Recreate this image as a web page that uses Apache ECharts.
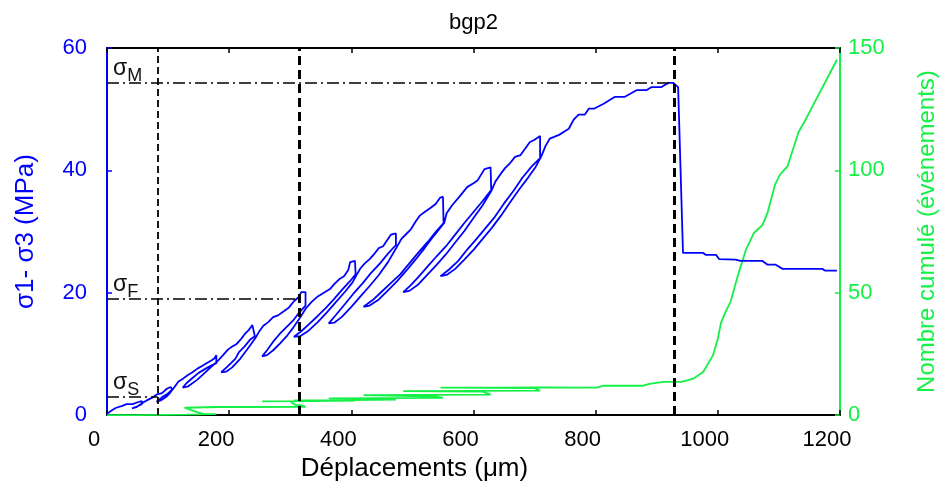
<!DOCTYPE html>
<html>
<head>
<meta charset="utf-8">
<script src="https://cdn.jsdelivr.net/npm/echarts@6/dist/echarts.min.js"></script>
<style>html,body{margin:0;padding:0;background:#fff;}#c{width:947px;height:487px;}</style>
</head>
<body>
<div id="c"></div>
<script>
// ---- data ----
const chartTitle = 'bgp2';
const xName = 'Déplacements (\u03bcm)';
const yLeftName = '\u03c31- \u03c33 (MPa)';
const yRightName = 'Nombre cumulé (événements)';
const xTicks = [0, 200, 400, 600, 800, 1000, 1200];
const yLeftTicks = [0, 20, 40, 60];
const yRightTicks = [0, 50, 100, 150];

// stress (MPa) vs displacement (um), cyclic loading path
const stressCurve = [
 [0,0.2],[8,0.8],[15,1.2],[25,1.5],[32,1.8],[42,1.8],[50,2.1],[57,2.3],
 [57,1.8],[49,1.4],[41,1.1],[48,1.3],[58,2.0],
 [65,2.4],[75,2.9],[82,3.4],[90,3.6],[98,4.3],[104,4.6],[107,4.9],
 [107,4.2],[98,3.4],[90,2.9],[81,2.2],[88,2.4],[97,3.0],[103,3.6],[109,4.4],
 [117,5.5],[125,6.0],[133,6.6],[140,7.0],[148,7.6],[157,8.1],[165,8.6],[172,9.0],[176,9.3],[179,9.8],
 [179,8.5],[165,7.8],[150,6.9],[138,5.9],[130,5.2],[124,4.5],[133,4.7],[148,5.8],[160,6.9],[172,8.0],[181,8.8],
 [190,9.8],[198,10.7],[205,11.2],[212,11.6],[220,12.5],[226,13.3],[232,13.9],[238,14.7],[241,15.0],
 [242,12.9],[234,12.3],[225,11.2],[216,10.3],[210,9.2],[198,8.0],[187,7.0],[195,7.1],[205,7.8],[218,9.2],[230,10.8],[243,12.6],
 [250,13.8],[256,14.6],[264,15.2],[272,16.0],[280,16.3],[290,17.0],[298,17.6],[306,18.6],[314,19.3],[318,20.1],[325,20.1],
 [325,17.9],[315,16.8],[305,15.5],[295,14.5],[283,13.3],[272,12.0],[262,10.6],[254,9.6],[262,9.8],[272,10.6],[283,11.7],[295,13.0],[305,14.3],[316,15.9],[326,17.5],
 [335,18.5],[345,19.4],[355,20.0],[365,20.6],[372,21.4],[380,22.2],[388,22.7],[395,23.7],[398,25.0],[406,25.2],
 [407,23.0],[397,21.8],[385,20.5],[372,19.0],[358,17.5],[345,16.2],[330,14.8],[318,13.7],[306,12.8],[316,12.9],[330,13.8],[345,15.2],[360,16.8],[375,18.5],[390,20.2],[402,21.7],[408,22.8],
 [415,24.0],[422,24.8],[430,25.5],[438,26.4],[445,27.3],[452,27.6],[458,28.5],[465,29.5],[473,29.7],
 [473,27.8],[460,26.4],[447,24.8],[432,23.2],[418,21.5],[403,19.8],[390,18.2],[375,16.4],[363,15.0],[372,15.1],[385,16.1],[400,17.7],[415,19.4],[430,21.1],[445,22.9],[460,25.0],[474,27.4],
 [482,28.8],[490,29.6],[497,30.3],[505,31.6],[512,32.6],[520,33.2],[530,33.9],[538,34.5],[545,35.5],[550,35.7],
 [551,31.4],[538,29.9],[525,28.3],[510,26.6],[495,24.8],[480,23.0],[465,21.6],[450,20.2],[435,18.8],[420,17.7],[430,17.9],[445,18.9],[460,20.4],[475,21.9],[490,23.6],[505,25.4],[520,27.3],[535,29.3],[552,31.4],
 [556,33.0],[565,34.3],[577,35.7],[590,37.3],[600,37.9],[607,38.4],[618,40.2],[628,40.5],
 [629,36.8],[615,35.0],[600,33.2],[585,31.4],[570,29.5],[555,27.6],[540,26.0],[525,24.3],[510,22.6],[497,21.2],[485,20.1],[495,20.3],[510,21.4],[525,23.0],[540,24.6],[555,26.3],[570,28.2],[585,30.1],[600,32.2],[615,34.3],[630,36.8],
 [636,38.2],[645,39.5],[652,40.4],[660,41.2],[668,42.2],[677,42.5],[685,43.6],[692,44.6],[700,45.0],[709,45.6],
 [709,42.0],[695,40.6],[680,38.8],[665,36.6],[650,34.6],[635,32.4],[620,30.6],[605,28.8],[590,27.1],[575,25.2],[560,23.8],[546,22.7],[556,22.9],[570,23.9],[585,25.4],[600,27.0],[615,28.8],[630,30.6],[645,32.6],[660,34.8],[675,36.9],[690,38.9],[702,40.6],[711,42.3],
 [718,44.0],[725,45.2],[740,45.8],[756,46.8],[764,48.3],[772,49.1],[782,49.1],[789,50.1],[798,50.1],[813,50.9],[831,52.0],[847,52.0],[867,53.1],[883,53.1],[891,53.6],[907,53.6],[919,54.3],[927,54.3],[935,53.6],
 [943,26.5],[976,26.5],[980,26.2],[997,26.2],[1002,25.5],[1029,25.4],[1037,25.2],[1073,25.2],[1081,24.6],[1094,24.6],[1106,23.9],[1171,23.9],[1176,23.6],[1195,23.6]
];

// cumulative acoustic events vs displacement
const eventsCurve = [
 [0,0],[50,0],[90,0.1],[130,0.2],[179,0.4],[160,0.4],[150,1.0],[138,2.0],[127,3.0],[124,3.3],[179,3.3],[241,3.3],[187,3.3],[241,3.3],[325,3.4],
 [319,4.0],[308,4.2],[300,5.6],[254,5.6],[330,5.7],[406,5.9],[306,6.0],[400,6.1],[473,6.3],[450,6.6],[363,6.8],[450,6.9],[550,7.0],
 [540,7.6],[420,8.2],[520,8.3],[628,8.4],[615,9.6],[485,9.8],[600,9.9],[709,10.0],[700,11.0],[546,11.2],[640,11.2],[709,11.3],
 [802,11.2],[813,12.0],[878,12.0],[888,12.8],[911,13.6],[940,13.6],[959,14.8],[976,17.6],[992,24.4],[1000,31.2],[1005,37.6],[1013,42.4],
 [1021,46.4],[1033,57.2],[1046,67.6],[1059,74.4],[1073,77.6],[1081,82.4],[1094,94.4],[1102,98.4],[1114,101.6],[1132,115.6],[1143,120.4],[1195,145.2]
];

// characteristic stresses and displacements
const sigmaNames = ['S', 'F', 'M'];
const sigmaValues = [3.0, 19.0, 54.25];
const sigmaDisp = [83, 314, 928];

// ---- chart ----
const FONT = "'Liberation Sans', Arial, sans-serif";
const BLUE = '#0000ff';
const GREEN = '#14f046';
const chart = echarts.init(document.getElementById('c'), null, {renderer: 'canvas'});

const hLines = sigmaNames.map((n, i) => [
  {coord: [0, sigmaValues[i]], lineStyle: {type: [12, 4, 2, 4], width: 1.6, color: '#000'},
   label: {show: true, position: 'insideStartTop', distance: [6, -2], formatter: '{a|\u03c3}{b|' + n + '}',
     rich: {a: {fontSize: 23, fontFamily: FONT, color: '#111', verticalAlign: 'top', lineHeight: 28},
            b: {fontSize: 18, fontFamily: FONT, color: '#111', verticalAlign: 'bottom', lineHeight: 28}}}},
  {coord: [sigmaDisp[i], sigmaValues[i]]}
]);
const vLines = sigmaDisp.map((d, i) => ({
  xAxis: d, label: {show: false},
  lineStyle: {type: i === 0 ? [7, 4] : [9, 5], width: i === 0 ? 1.8 : 3, color: '#000'}
}));

chart.setOption({
  animation: false,
  backgroundColor: '#fff',
  textStyle: {fontFamily: FONT},
  title: {text: chartTitle, left: 'center', top: 7,
    textStyle: {fontFamily: FONT, fontSize: 22, fontWeight: 'normal', color: '#000'}},
  grid: {left: 107, right: 102, top: 48, bottom: 63, containLabel: false},
  xAxis: [
    {type: 'value', min: xTicks[0], max: xTicks[xTicks.length - 1], interval: 200, position: 'bottom',
     name: xName, nameLocation: 'middle', nameGap: 35,
     nameTextStyle: {fontFamily: FONT, fontSize: 26, color: '#000', padding: [0, 118, 0, 0]},
     axisLine: {onZero: false, lineStyle: {color: '#000', width: 2}},
     axisTick: {inside: true, length: 5, lineStyle: {color: '#000', width: 1.5}},
     axisLabel: {fontFamily: FONT, fontSize: 22, color: '#000', margin: 14, padding: [0, 26, 0, 0],
                 formatter: v => String(v)},
     splitLine: {show: false}},
    {type: 'value', min: xTicks[0], max: xTicks[xTicks.length - 1], interval: 200, position: 'top',
     axisLine: {onZero: false, lineStyle: {color: '#000', width: 2}},
     axisTick: {inside: true, length: 5, lineStyle: {color: '#000', width: 1.5}},
     axisLabel: {show: false}, splitLine: {show: false}}
  ],
  yAxis: [
    {type: 'value', min: yLeftTicks[0], max: yLeftTicks[yLeftTicks.length - 1], interval: 20, position: 'left',
     name: yLeftName, nameLocation: 'middle', nameGap: 68, nameRotate: 90,
     nameTextStyle: {fontFamily: FONT, fontSize: 26, color: BLUE},
     axisLine: {show: true, onZero: false, lineStyle: {color: BLUE, width: 2}},
     axisTick: {show: true, inside: true, length: 5, lineStyle: {color: BLUE, width: 1.5}},
     axisLabel: {fontFamily: FONT, fontSize: 22, color: BLUE, margin: 20},
     splitLine: {show: false}},
    {type: 'value', min: yRightTicks[0], max: yRightTicks[yRightTicks.length - 1], interval: 50, position: 'right',
     name: yRightName, nameLocation: 'middle', nameGap: 75, nameRotate: 90,
     nameTextStyle: {fontFamily: FONT, fontSize: 24, color: GREEN},
     axisLine: {show: true, onZero: false, lineStyle: {color: GREEN, width: 2}},
     axisTick: {show: true, inside: true, length: 5, lineStyle: {color: GREEN, width: 1.5}},
     axisLabel: {fontFamily: FONT, fontSize: 22, color: GREEN, margin: 8},
     splitLine: {show: false}}
  ],
  series: [
    {name: 'events', type: 'line', xAxisIndex: 0, yAxisIndex: 1, data: eventsCurve,
     showSymbol: false, symbol: 'none', lineStyle: {color: GREEN, width: 1.8}, z: 2},
    {name: 'stress', type: 'line', xAxisIndex: 0, yAxisIndex: 0, data: stressCurve,
     showSymbol: false, symbol: 'none', lineStyle: {color: BLUE, width: 1.8}, z: 3,
     markLine: {silent: true, symbol: 'none', animation: false, precision: 3,
       data: hLines.concat(vLines)}}
  ]
});
</script>
</body>
</html>
